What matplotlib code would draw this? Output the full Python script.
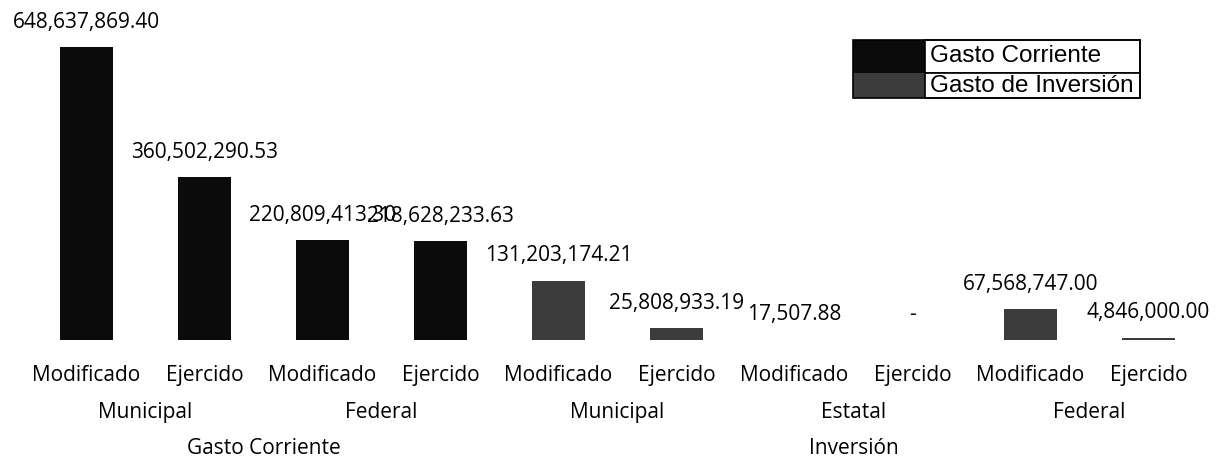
import matplotlib
matplotlib.use("Agg")
import matplotlib.pyplot as plt
from matplotlib.patches import Rectangle

# datos
etiquetas = ["Modificado", "Ejercido"] * 5
grupos = ["Municipal", "Federal", "Municipal", "Estatal", "Federal"]
tipos = ["Gasto Corriente", "Inversión"]
corriente = [648637869.40, 360502290.53, 220809413.30, 218628233.63]
inversion = [131203174.21, 25808933.19, 17507.88, 0.0, 67568747.00, 4846000.00]
series = ["Gasto Corriente", "Gasto de Inversión"]

col_corriente = "#0b0b0b"
col_inversion = "#3c3c3c"

fuente = "Open Sans"
tam = 15

fig = plt.figure(figsize=(12.29, 4.70), dpi=100)
ax = fig.add_axes([0.0224, 0.2766, 0.9601, 0.6723])

valores = corriente + inversion
colores = [col_corriente] * len(corriente) + [col_inversion] * len(inversion)
x = list(range(len(valores)))
barras = ax.bar(x, valores, width=0.45, color=colores)

# etiquetas de datos
for xi, v in zip(x, valores):
    txt = "-" if v == 0 else f"{v:,.2f}"
    ax.annotate(txt, (xi, v), xytext=(0, 18), textcoords="offset points",
                ha="center", va="center", fontsize=tam, family=fuente,
                annotation_clip=False)

ax.set_xlim(-0.5, len(valores) - 0.5)
ax.set_ylim(0, 700e6)
ax.axis("off")

# ejes de categorias (tres niveles)
tr = ax.get_xaxis_transform()
for xi, lab in zip(x, etiquetas):
    ax.text(xi, -0.111, lab, transform=tr, ha="center", va="center",
            fontsize=tam, family=fuente)
for i, g in enumerate(grupos):
    ax.text(2 * i + 0.5, -0.228, g, transform=tr, ha="center", va="center",
            fontsize=tam, family=fuente)
ax.text((len(corriente) - 1) / 2, -0.342, tipos[0], transform=tr,
        ha="center", va="center", fontsize=tam, family=fuente)
ax.text(len(corriente) + (len(inversion) - 1) / 2, -0.342, tipos[1], transform=tr,
        ha="center", va="center", fontsize=tam, family=fuente)

# leyenda en forma de tabla
x0, x1, x2 = 853 / 1229, 925 / 1229, 1140 / 1229
ytop, ymid, ybot = 1 - 40 / 470, 1 - 73 / 470, 1 - 98 / 470
filas = [(ymid, ytop, col_corriente), (ybot, ymid, col_inversion)]
for (yb, yt, c), nombre in zip(filas, series):
    fig.add_artist(Rectangle((x0, yb), x1 - x0, yt - yb, transform=fig.transFigure,
                             facecolor=c, edgecolor=c, lw=0))
    fig.add_artist(Rectangle((x1, yb), x2 - x1, yt - yb, transform=fig.transFigure,
                             facecolor="white", edgecolor="black", lw=1.2))
    fig.text(x1 + 5 / 1229, (yb + yt) / 2, nombre, ha="left", va="center",
             fontsize=17.5, family="Liberation Sans")
fig.add_artist(Rectangle((x0, ybot), x2 - x0, ytop - ybot, transform=fig.transFigure,
                         facecolor="none", edgecolor="black", lw=1.2))

fig.savefig("out.png", dpi=100)
